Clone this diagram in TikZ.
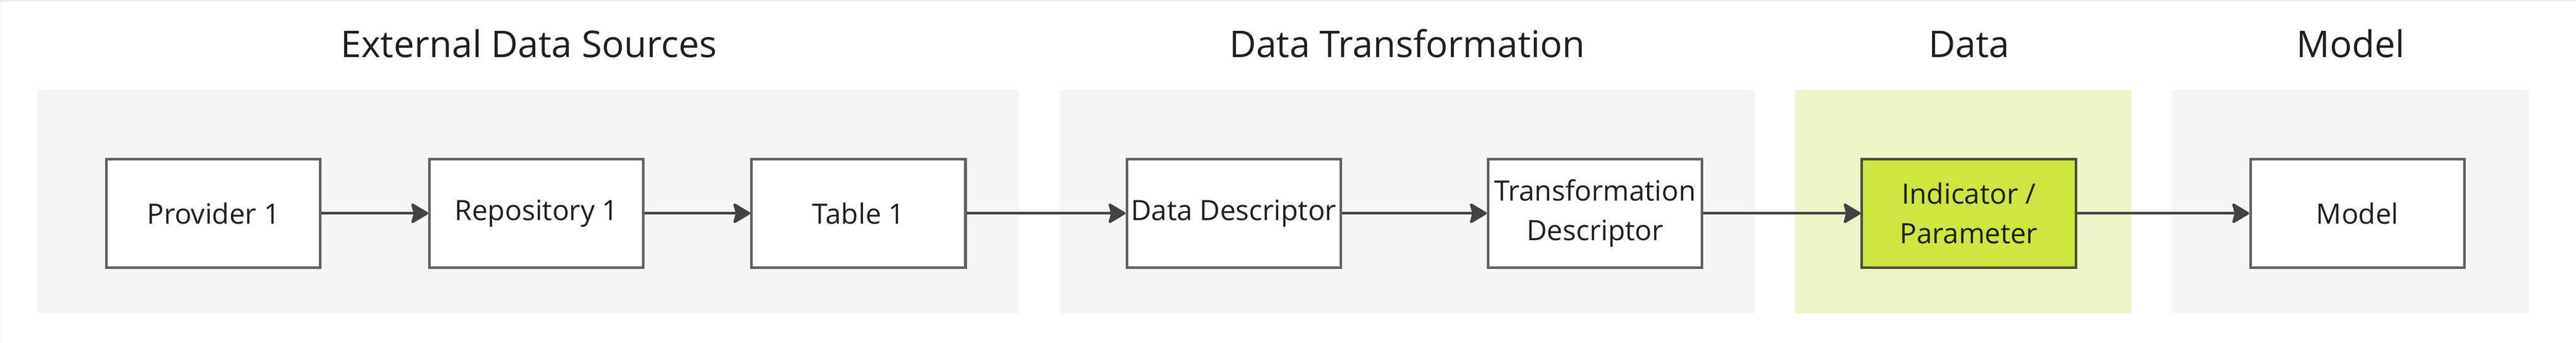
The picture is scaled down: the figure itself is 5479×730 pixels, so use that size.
\documentclass[tikz,border=0pt]{standalone}
\usepackage{fontspec}
\setmainfont{Open Sans}
\usetikzlibrary{arrows.meta}
\definecolor{grpgrey}{HTML}{F5F5F5}
\definecolor{grpgreen}{HTML}{EEF6C9}
\definecolor{boxborder}{HTML}{616161}
\definecolor{limefill}{HTML}{CDE640}
\definecolor{limeborder}{HTML}{4B5039}
\definecolor{arrowcol}{HTML}{424242}
\definecolor{txtcol}{HTML}{1F1F1F}
\definecolor{framecol}{HTML}{EEEEEE}
\tikzset{
  grp/.style={fill=grpgrey, draw=none},
  grpg/.style={fill=grpgreen, draw=none},
  title/.style={anchor=base, text=txtcol, font=\fontsize{19.6}{24}\selectfont, inner sep=0pt},
  stepbox/.style={draw=boxborder, fill=white, line width=1.375pt, minimum width=113.75pt, minimum height=57.9pt, inner sep=0pt, align=center, text=txtcol, font=\fontsize{14.9}{21}\selectfont},
  limebox/.style={stepbox, fill=limefill, draw=limeborder},
  flow/.style={draw=arrowcol, line width=1.4pt, -{Stealth[length=10pt, width=11.8pt, inset=1.6pt, round]}},
}
\begin{document}
\begin{tikzpicture}[x=0.25pt, y=-0.25pt]
\useasboundingbox (0,0) rectangle (5479,730);
% partial frame
\fill[framecol] (0,0) rectangle (5479,3);
\fill[framecol] (0,0) rectangle (1.5,730);
% groups
\fill[grp]  (79,192) rectangle (2168,667);
\fill[grp]  (2254,192) rectangle (3733,667);
\fill[grpg] (3818,192) rectangle (4533,667);
\fill[grp]  (4619,192) rectangle (5380,667);
% titles
\node[title] (t1) at (1125,122) {External Data Sources};
\node[title] (t2) at (2993,122) {Data Transformation};
\node[title] (t3) at (4188,122) {Data};
\node[title] (t4) at (5000,122) {Model};
% boxes
\node[stepbox] (prov) at (454,454.5) {Provider 1};
\node[stepbox] (repo) at (1141,454.5) {Repository 1};
\node[stepbox] (tab) at (1826,454.5) {Table 1};
\node[stepbox] (dd) at (2624,454.5) {Data Descriptor};
\node[stepbox] (td) at (3392.5,454.5) {Transformation\\Descriptor};
\node[limebox] (ind) at (4187.5,454.5) {Indicator /\\Parameter};
\node[stepbox] (mod) at (5014,454.5) {Model};
% connectors
\draw[flow] (prov.east) -- (repo.west);
\draw[flow] (repo.east) -- (tab.west);
\draw[flow] (tab.east) -- (dd.west);
\draw[flow] (dd.east) -- (td.west);
\draw[flow] (td.east) -- (ind.west);
\draw[flow] (ind.east) -- (mod.west);
\end{tikzpicture}
\end{document}
